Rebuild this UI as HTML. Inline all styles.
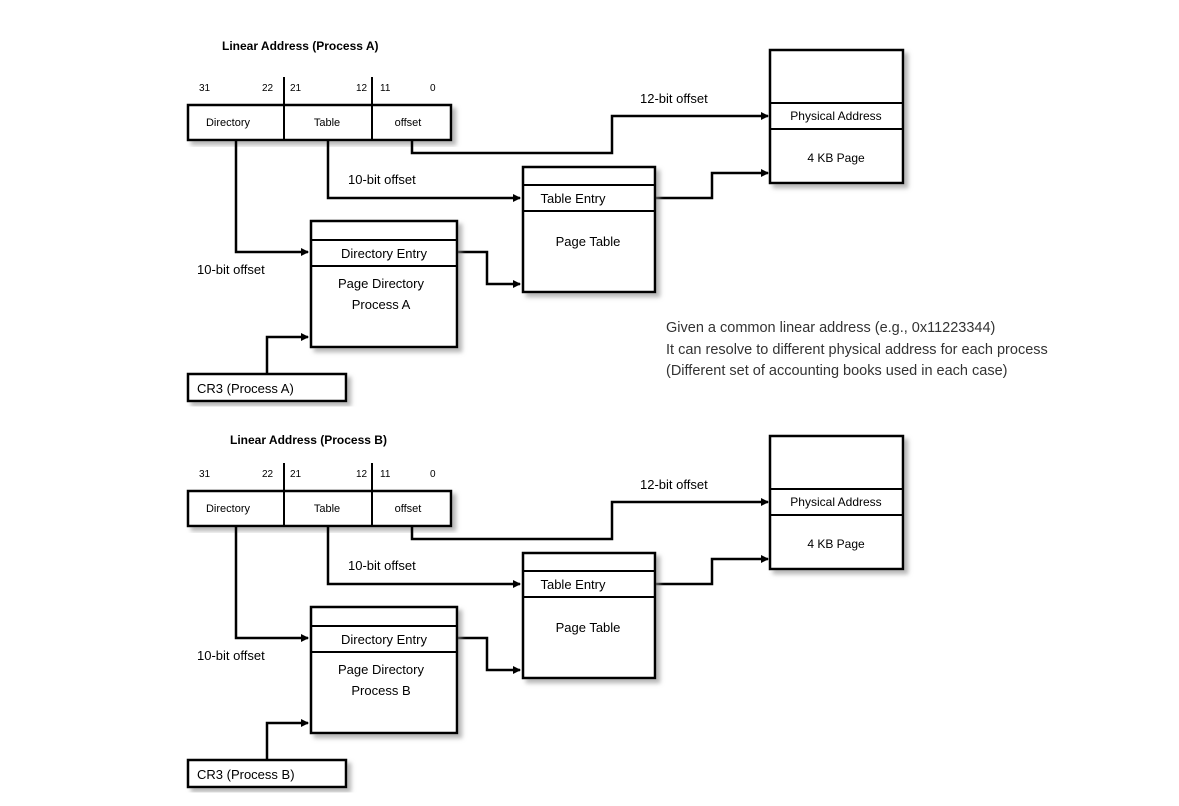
<!DOCTYPE html>
<html><head><meta charset="utf-8"><style>
html,body{margin:0;padding:0;background:#fff;}
svg{display:block;font-family:"Liberation Sans",sans-serif;}
</style></head><body>
<svg width="1179" height="806" viewBox="0 0 1179 806" xmlns="http://www.w3.org/2000/svg">
<defs>
<filter id="sh" x="-10%" y="-10%" width="130%" height="130%"><feDropShadow dx="4" dy="4" stdDeviation="2" flood-color="#888" flood-opacity="0.6"/></filter>
<marker id="ar" markerWidth="8" markerHeight="8" refX="7" refY="4" orient="auto" markerUnits="userSpaceOnUse"><path d="M0,0 L8,4 L0,8 z" fill="#000"/></marker>
</defs>

<g id="A">
<text x="222" y="50" font-size="12" font-weight="bold">Linear Address (Process A)</text>
<g font-size="10">
<text x="199" y="91">31</text><text x="262" y="91">22</text><text x="290" y="91">21</text><text x="356" y="91">12</text><text x="380" y="91">11</text><text x="430" y="91">0</text>
</g>
<line x1="284" y1="77" x2="284" y2="104" stroke="#000" stroke-width="2"/>
<line x1="372" y1="77" x2="372" y2="104" stroke="#000" stroke-width="2"/>
<rect x="188" y="105" width="263" height="35" fill="#fff" stroke="#000" stroke-width="2.5" filter="url(#sh)"/>
<line x1="284" y1="105" x2="284" y2="140" stroke="#000" stroke-width="2"/>
<line x1="372" y1="105" x2="372" y2="140" stroke="#000" stroke-width="2"/>
<g font-size="11" text-anchor="middle"><text x="228" y="126">Directory</text><text x="327" y="126">Table</text><text x="408" y="126">offset</text></g>

<g fill="none" stroke="#000" stroke-width="2.5">
<polyline points="412,140 412,153 612,153 612,116 768,116" marker-end="url(#ar)"/>
<polyline points="328,140 328,198 520,198" marker-end="url(#ar)"/>
<polyline points="236,140 236,252 308,252" marker-end="url(#ar)"/>
<polyline points="457,252 487,252 487,284 520,284" marker-end="url(#ar)"/>
<polyline points="267,374 267,337 308,337" marker-end="url(#ar)"/>
<polyline points="655,198 712,198 712,173 768,173" marker-end="url(#ar)"/>
</g>
<g font-size="13">
<text x="640" y="103">12-bit offset</text>
<text x="348" y="184">10-bit offset</text>
<text x="197" y="274">10-bit offset</text>
</g>

<rect x="311" y="221" width="146" height="126" fill="#fff" stroke="#000" stroke-width="2.5" filter="url(#sh)"/>
<line x1="311" y1="240" x2="457" y2="240" stroke="#000" stroke-width="2"/>
<line x1="311" y1="266" x2="457" y2="266" stroke="#000" stroke-width="2"/>
<g font-size="13" text-anchor="middle"><text x="384" y="258">Directory Entry</text><text x="381" y="288">Page Directory</text><text x="381" y="309">Process A</text></g>

<rect x="188" y="374" width="158" height="27" fill="#fff" stroke="#000" stroke-width="2.5" filter="url(#sh)"/>
<text x="197" y="393" font-size="13">CR3 (Process A)</text>

<rect x="523" y="167" width="132" height="125" fill="#fff" stroke="#000" stroke-width="2.5" filter="url(#sh)"/>
<line x1="523" y1="185" x2="655" y2="185" stroke="#000" stroke-width="2"/>
<line x1="523" y1="211" x2="655" y2="211" stroke="#000" stroke-width="2"/>
<g font-size="13" text-anchor="middle"><text x="573" y="203">Table Entry</text><text x="588" y="246">Page Table</text></g>

<rect x="770" y="50" width="133" height="133" fill="#fff" stroke="#000" stroke-width="2.5" filter="url(#sh)"/>
<line x1="770" y1="103" x2="903" y2="103" stroke="#000" stroke-width="2"/>
<line x1="770" y1="129" x2="903" y2="129" stroke="#000" stroke-width="2"/>
<g font-size="12" text-anchor="middle"><text x="836" y="120">Physical Address</text><text x="836" y="162">4 KB Page</text></g>
</g>

<g transform="translate(0,386)">
<g font-size="10">
<text x="199" y="91">31</text><text x="262" y="91">22</text><text x="290" y="91">21</text><text x="356" y="91">12</text><text x="380" y="91">11</text><text x="430" y="91">0</text>
</g>
<line x1="284" y1="77" x2="284" y2="104" stroke="#000" stroke-width="2"/>
<line x1="372" y1="77" x2="372" y2="104" stroke="#000" stroke-width="2"/>
<rect x="188" y="105" width="263" height="35" fill="#fff" stroke="#000" stroke-width="2.5" filter="url(#sh)"/>
<line x1="284" y1="105" x2="284" y2="140" stroke="#000" stroke-width="2"/>
<line x1="372" y1="105" x2="372" y2="140" stroke="#000" stroke-width="2"/>
<g font-size="11" text-anchor="middle"><text x="228" y="126">Directory</text><text x="327" y="126">Table</text><text x="408" y="126">offset</text></g>

<g fill="none" stroke="#000" stroke-width="2.5">
<polyline points="412,140 412,153 612,153 612,116 768,116" marker-end="url(#ar)"/>
<polyline points="328,140 328,198 520,198" marker-end="url(#ar)"/>
<polyline points="236,140 236,252 308,252" marker-end="url(#ar)"/>
<polyline points="457,252 487,252 487,284 520,284" marker-end="url(#ar)"/>
<polyline points="267,374 267,337 308,337" marker-end="url(#ar)"/>
<polyline points="655,198 712,198 712,173 768,173" marker-end="url(#ar)"/>
</g>
<g font-size="13">
<text x="640" y="103">12-bit offset</text>
<text x="348" y="184">10-bit offset</text>
<text x="197" y="274">10-bit offset</text>
</g>

<rect x="311" y="221" width="146" height="126" fill="#fff" stroke="#000" stroke-width="2.5" filter="url(#sh)"/>
<line x1="311" y1="240" x2="457" y2="240" stroke="#000" stroke-width="2"/>
<line x1="311" y1="266" x2="457" y2="266" stroke="#000" stroke-width="2"/>
<g font-size="13" text-anchor="middle"><text x="384" y="258">Directory Entry</text><text x="381" y="288">Page Directory</text><text x="381" y="309">Process B</text></g>

<rect x="188" y="374" width="158" height="27" fill="#fff" stroke="#000" stroke-width="2.5" filter="url(#sh)"/>
<text x="197" y="393" font-size="13">CR3 (Process B)</text>

<rect x="523" y="167" width="132" height="125" fill="#fff" stroke="#000" stroke-width="2.5" filter="url(#sh)"/>
<line x1="523" y1="185" x2="655" y2="185" stroke="#000" stroke-width="2"/>
<line x1="523" y1="211" x2="655" y2="211" stroke="#000" stroke-width="2"/>
<g font-size="13" text-anchor="middle"><text x="573" y="203">Table Entry</text><text x="588" y="246">Page Table</text></g>

<rect x="770" y="50" width="133" height="133" fill="#fff" stroke="#000" stroke-width="2.5" filter="url(#sh)"/>
<line x1="770" y1="103" x2="903" y2="103" stroke="#000" stroke-width="2"/>
<line x1="770" y1="129" x2="903" y2="129" stroke="#000" stroke-width="2"/>
<g font-size="12" text-anchor="middle"><text x="836" y="120">Physical Address</text><text x="836" y="162">4 KB Page</text></g>
</g>
<text x="230" y="444" font-size="12" font-weight="bold">Linear Address (Process B)</text>

<g font-size="14.5" fill="#333">
<text x="666" y="332">Given a common linear address (e.g., 0x11223344)</text>
<text x="666" y="354">It can resolve to different physical address for each process</text>
<text x="666" y="375">(Different set of accounting books used in each case)</text>
</g>
</svg>
</body></html>
